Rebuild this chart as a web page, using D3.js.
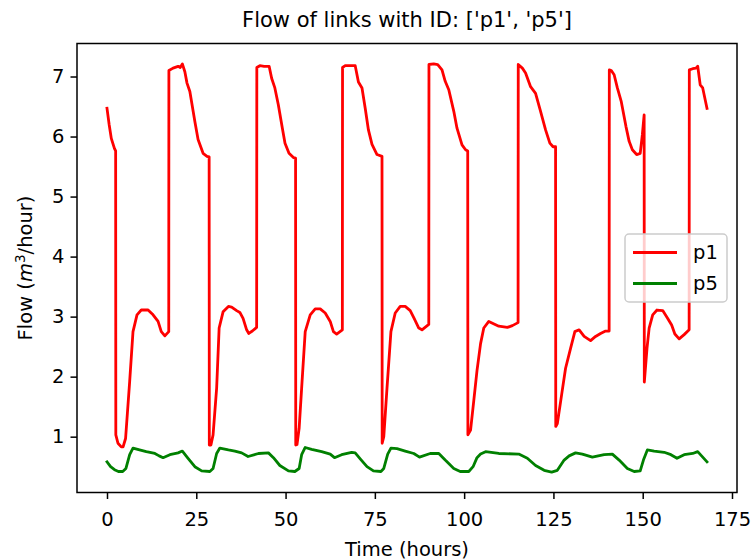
<!DOCTYPE html>
<html>
<head>
<meta charset="utf-8">
<script src="https://cdn.jsdelivr.net/npm/d3@7"></script>
<style>
  body { margin: 0; background: #fff; }
  text { font-family: "DejaVu Sans", sans-serif; fill: #000; }
</style>
</head>
<body>
<div class="canvas"></div>
<script>
// Values (time in hours, flow in m3/hour)
const p1Time = [
  0, 0.6, 1.2, 2.1, 2.42, 2.47, 3.07, 4.0, 4.5, 5.2, 6.35, 7.28, 8.4, 9.6, 11.5, 12.9, 14.3, 15.2, 16.2, 17.29,
  17.33, 18.5, 19.9, 20.5, 21.1, 21.8, 22.4, 23.2, 24.6, 25.5, 26.9, 28.0, 28.6,
  28.65, 29.1, 29.7, 30.7, 31.4, 32.5, 34.0, 34.9, 36.3, 37.2, 38.1, 39.1, 39.7, 40.7, 41.9,
  41.95, 42.8, 44.0, 45.4, 46.1, 47.0, 47.97, 49.1, 49.84, 50.96, 52.2, 52.8,
  52.85, 53.2, 53.8, 54.5, 55.5, 56.9, 58.3, 59.7, 61.1, 62.5, 63.4, 64.3, 65.9,
  65.95, 66.7, 68.5, 69.5, 70.4, 71.4, 72.3, 73.2, 74.2, 75.6, 77.0,
  77.05, 77.5, 78.4, 79.5, 80.7, 82.1, 83.5, 84.9, 86.0, 87.3, 88.2, 90.1,
  90.15, 91.5, 92.6, 93.8, 94.7, 95.7, 97.1, 98.0, 99.4, 100.4, 101.0,
  101.05, 101.8, 102.7, 103.6, 104.6, 105.5, 106.9, 109.7, 112.1, 113.5, 115.1,
  115.15, 116.3, 117.2, 118.6, 120.0, 121.4, 122.8, 124.0, 124.9, 125.6,
  125.65, 126.1, 127.3, 128.4, 129.8, 131.0, 132.2, 133.6, 135.4, 136.8, 138.2, 139.6, 140.6,
  140.65, 141.2, 142.0, 142.9, 144.0, 145.3, 146.2, 147.1, 148.3, 149.3, 149.9, 150.4,
  150.45, 151.2, 151.8, 152.8, 154.0, 155.6, 157.0, 158.1, 159.0, 160.2, 161.6, 163.0,
  163.05, 164.0, 164.9, 165.4, 166.1, 166.8, 168.0
];
const p1Flow = [
  6.47, 6.2, 5.97, 5.80, 5.76, 1.03, 0.89, 0.83, 0.83, 0.97, 1.92, 2.75, 3.03, 3.11, 3.11, 3.03, 2.92, 2.75, 2.68, 2.75,
  7.10, 7.14, 7.17, 7.15, 7.21, 7.08, 6.89, 6.75, 6.25, 5.95, 5.72, 5.67, 5.66,
  0.86, 0.86, 1.03, 1.81, 2.81, 3.08, 3.17, 3.16, 3.10, 3.07, 2.97, 2.78, 2.72, 2.76, 2.82,
  7.15, 7.18, 7.17, 7.17, 6.97, 6.81, 6.53, 6.14, 5.89, 5.72, 5.65, 5.64,
  0.86, 0.87, 1.14, 1.81, 2.75, 3.03, 3.13, 3.13, 3.06, 2.92, 2.75, 2.71, 2.78,
  7.15, 7.18, 7.18, 7.18, 6.91, 6.81, 6.47, 6.11, 5.87, 5.70, 5.67,
  0.89, 1.0, 1.81, 2.75, 3.06, 3.17, 3.17, 3.10, 2.97, 2.81, 2.78, 2.87,
  7.20, 7.21, 7.20, 7.11, 6.92, 6.78, 6.42, 6.14, 5.86, 5.78, 5.76,
  1.03, 1.11, 1.6, 2.1, 2.55, 2.81, 2.92, 2.84, 2.82, 2.85, 2.90,
  7.20, 7.14, 7.06, 6.83, 6.72, 6.42, 6.11, 5.89, 5.83, 5.83,
  1.17, 1.22, 1.70, 2.14, 2.47, 2.75, 2.78, 2.67, 2.60, 2.67, 2.72, 2.76, 2.76,
  7.11, 7.10, 7.03, 6.81, 6.58, 6.17, 5.92, 5.78, 5.70, 5.72, 6.03, 6.36,
  1.91, 2.47, 2.81, 3.03, 3.11, 3.10, 2.97, 2.86, 2.71, 2.63, 2.70, 2.78,
  7.11, 7.13, 7.14, 7.17, 6.86, 6.81, 6.47
];
const p5Time = [
  0, 1.0, 2.1, 3.2, 4.4, 5.3, 6.35, 7.28, 9.1, 11.0, 13.4, 14.6, 15.7, 17.6, 19.9, 21.1, 22.7, 24.6, 26.5, 28.8,
  29.7, 30.7, 31.6, 34.0, 35.8, 37.7, 39.5, 42.4, 45.2, 46.6, 48.4, 50.8, 52.6,
  53.8, 54.5, 55.5, 57.3, 60.1, 62.5, 63.7, 65.7, 68.5, 69.5, 70.9, 72.8, 74.6, 76.7,
  77.5, 78.6, 79.5, 81.2, 83.5, 85.9, 87.5, 90.5, 92.9, 94.7, 97.1, 98.9, 101.3,
  102.5, 103.6, 104.6, 106.0, 109.7, 115.3, 117.7, 120.0, 122.4, 124.5,
  126.1, 128.0, 129.4, 131.2, 133.1, 135.9, 139.2, 141.5, 143.4, 145.7, 147.6, 149.3,
  150.2, 151.3, 153.2, 156.0, 157.9, 159.6, 161.6, 164.0, 165.4, 168.0
];
const p5Flow = [
  0.58, 0.50, 0.45, 0.42, 0.42, 0.47, 0.70, 0.81, 0.78, 0.75, 0.72, 0.68, 0.65, 0.70, 0.73, 0.76, 0.64, 0.50, 0.43, 0.42,
  0.47, 0.72, 0.81, 0.78, 0.76, 0.73, 0.67, 0.72, 0.73, 0.65, 0.52, 0.43, 0.42,
  0.47, 0.70, 0.82, 0.79, 0.75, 0.71, 0.65, 0.70, 0.74, 0.73, 0.63, 0.50, 0.43, 0.42,
  0.47, 0.71, 0.81, 0.80, 0.76, 0.72, 0.66, 0.72, 0.72, 0.61, 0.47, 0.42, 0.42,
  0.50, 0.65, 0.71, 0.75, 0.72, 0.71, 0.64, 0.52, 0.44, 0.41,
  0.44, 0.61, 0.68, 0.73, 0.71, 0.66, 0.70, 0.71, 0.61, 0.47, 0.42, 0.43,
  0.61, 0.78, 0.76, 0.74, 0.70, 0.64, 0.70, 0.72, 0.75, 0.58
];
const seriesNames = ["p1", "p5"];
const seriesColours = ["red", "green"];
const xTicks = [0, 25, 50, 75, 100, 125, 150, 175];
const yTicks = [1, 2, 3, 4, 5, 6, 7];

const dims = { width: 752, height: 560 };
const margin = { top: 43.5, right: 15, bottom: 67.5, left: 77 };
const inner = {
  width: dims.width - margin.left - margin.right,
  height: dims.height - margin.top - margin.bottom
};
const fontSize = 19.5;

const series = [
  p1Time.map((t, i) => ({ t, v: p1Flow[i] })),
  p5Time.map((t, i) => ({ t, v: p5Flow[i] }))
];

// matplotlib style 5% padding around the data
const pad = (lo, hi) => [lo - (hi - lo) * 0.05, hi + (hi - lo) * 0.05];
const allT = p1Time.concat(p5Time);
const allV = p1Flow.concat(p5Flow);

const x = d3.scaleLinear()
  .domain(pad(d3.min(allT), d3.max(allT)))
  .range([0, inner.width]);
const y = d3.scaleLinear()
  .domain(pad(d3.min(allV), d3.max(allV)))
  .range([inner.height, 0]);

const svg = d3.select(".canvas")
  .append("svg")
  .attr("width", dims.width)
  .attr("height", dims.height);

const graph = svg.append("g")
  .attr("transform", `translate(${margin.left}, ${margin.top})`);

// Lines
const line = d3.line().x((d) => x(d.t)).y((d) => y(d.v));
graph.selectAll("path.series")
  .data(series)
  .enter()
  .append("path")
  .attr("class", "series")
  .attr("fill", "none")
  .attr("stroke", (d, i) => seriesColours[i])
  .attr("stroke-width", 2.8)
  .attr("stroke-linejoin", "round")
  .attr("stroke-linecap", "square")
  .attr("d", line);

// Axes
const xAxis = d3.axisBottom(x).tickValues(xTicks).tickSize(6.5).tickPadding(13);
const yAxis = d3.axisLeft(y).tickValues(yTicks).tickSize(6.5).tickPadding(6);

const gx = graph.append("g")
  .attr("transform", `translate(0, ${inner.height})`)
  .call(xAxis);
const gy = graph.append("g").call(yAxis);

[gx, gy].forEach((g) => {
  g.select(".domain").remove();
  g.selectAll(".tick line").attr("stroke", "#000").attr("stroke-width", 1.5);
  g.selectAll(".tick text")
    .attr("font-family", "DejaVu Sans")
    .attr("font-size", fontSize)
    .attr("fill", "#000");
});

// Frame
graph.append("rect")
  .attr("width", inner.width)
  .attr("height", inner.height)
  .attr("fill", "none")
  .attr("stroke", "#000")
  .attr("stroke-width", 1.5);

// Title and axis labels
svg.append("text")
  .attr("x", margin.left + inner.width / 2)
  .attr("y", 27)
  .attr("text-anchor", "middle")
  .attr("font-size", 21)
  .text("Flow of links with ID: ['p1', 'p5']");

svg.append("text")
  .attr("x", margin.left + inner.width / 2)
  .attr("y", 556)
  .attr("text-anchor", "middle")
  .attr("font-size", fontSize)
  .text("Time (hours)");

const yLabel = svg.append("text")
  .attr("transform", `translate(32, ${margin.top + inner.height / 2}) rotate(-90)`)
  .attr("text-anchor", "middle")
  .attr("font-size", fontSize);
yLabel.append("tspan").text("Flow (");
yLabel.append("tspan").attr("font-style", "italic").text("m");
yLabel.append("tspan").attr("font-size", fontSize * 0.7).attr("dy", -7.5).text("3");
yLabel.append("tspan").attr("dy", 7.5).text("/hour)");

// Legend, centre right
const legendBox = { w: 102, h: 68 };
const legendGroup = graph.append("g")
  .attr("transform", `translate(${inner.width - 10 - legendBox.w}, ${inner.height / 2 - legendBox.h / 2})`);

legendGroup.append("rect")
  .attr("width", legendBox.w)
  .attr("height", legendBox.h)
  .attr("rx", 4)
  .attr("fill", "#fff")
  .attr("fill-opacity", 0.8)
  .attr("stroke", "#cccccc")
  .attr("stroke-width", 1.5);

const entries = legendGroup.selectAll("g.entry")
  .data(seriesNames)
  .enter()
  .append("g")
  .attr("class", "entry")
  .attr("transform", (d, i) => `translate(0, ${18.5 + i * 31})`);

entries.append("line")
  .attr("x1", 8).attr("x2", 52)
  .attr("stroke", (d, i) => seriesColours[i])
  .attr("stroke-width", 2.8);

entries.append("text")
  .attr("x", 68)
  .attr("dy", "0.35em")
  .attr("font-size", fontSize)
  .text((d) => d);
</script>
</body>
</html>
